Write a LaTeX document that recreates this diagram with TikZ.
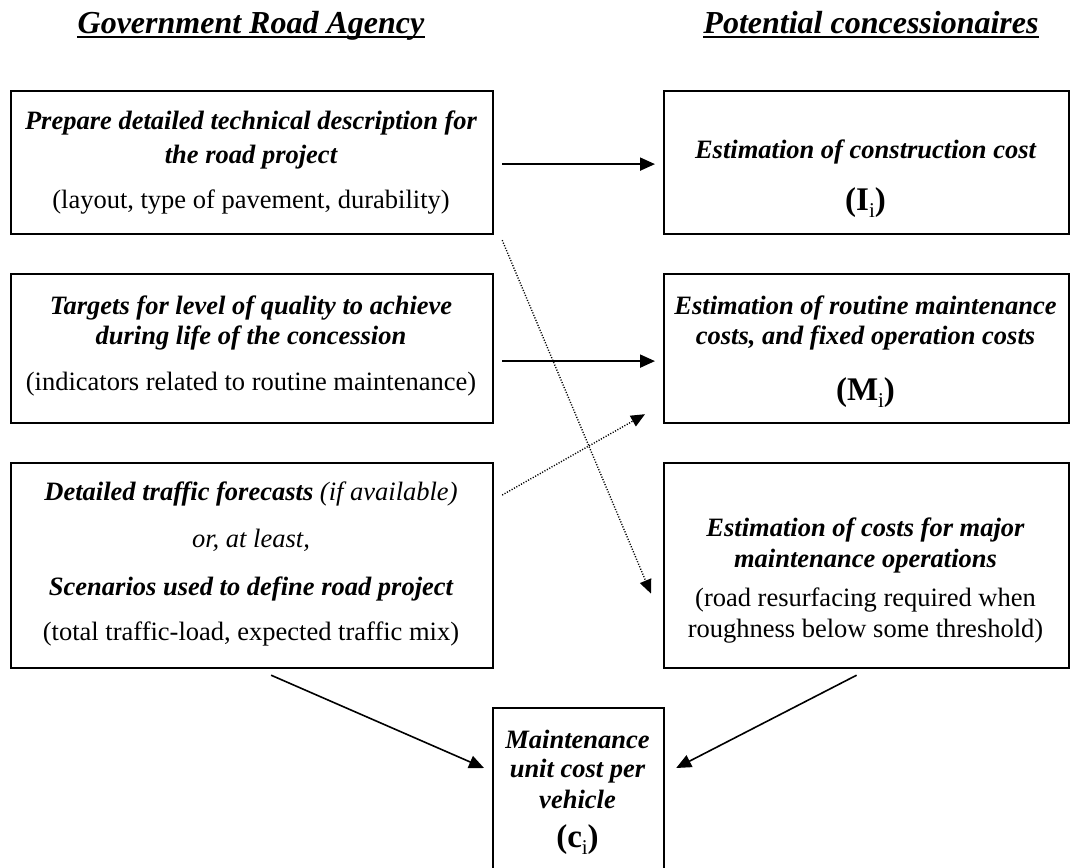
\documentclass[tikz,border=0pt]{standalone}
\usepackage{fontspec}
\setmainfont{Liberation Serif}
\usetikzlibrary{arrows.meta,calc}
\newcommand{\bodyfont}{\fontsize{26.5}{31}\selectfont}
\newcommand{\bfit}{\bfseries\itshape}
\newcommand{\lblsub}[1]{\raisebox{-0.22em}{\fontsize{21}{21}\selectfont\mdseries\upshape #1}}
\begin{document}
\begin{tikzpicture}[x=1pt,y=-1pt,
  box/.style={draw, line width=2.2pt, inner sep=0pt, anchor=north west},
  txt/.style={inner sep=0pt, align=center, anchor=north, font=\bodyfont},
  lbl/.style={inner sep=0pt, anchor=base, font=\fontsize{33}{38}\selectfont\bfseries},
  ttl/.style={inner sep=0pt, anchor=base, text depth=0.25em, font=\fontsize{32}{38}\selectfont\bfseries\itshape},
  arr/.style={line width=2pt, -{Triangle[length=15pt,width=13pt]}},
  dotarr/.style={line width=1.4pt, dash pattern=on 1.1pt off 1.6pt, -{Triangle[length=14pt,width=12pt]}}
]
\useasboundingbox (0,0) rectangle (1072,868);
\clip (0,0) rectangle (1072,868);

% titles
\node[ttl] (T1) at (251,33) {Government Road Agency};
\node[ttl] (T2) at (871,33) {Potential concessionaires};
\draw[line width=2.4pt] ([yshift=-1pt]T1.south west) -- ([yshift=-1pt]T1.south east);
\draw[line width=2.4pt] ([yshift=-1pt]T2.south west) -- ([yshift=-1pt]T2.south east);

% boxes
\node[box, minimum width=482pt, minimum height=143pt] (L1) at (10,90) {};
\node[box, minimum width=482pt, minimum height=149pt] (L2) at (10,273) {};
\node[box, minimum width=482pt, minimum height=205pt] (L3) at (10,462) {};
\node[box, minimum width=405pt, minimum height=143pt] (R1) at (663,90) {};
\node[box, minimum width=405pt, minimum height=149pt] (R2) at (663,273) {};
\node[box, minimum width=405pt, minimum height=205pt] (R3) at (663,462) {};
\node[box, minimum width=171pt, minimum height=165pt] (C) at (492,707) {};

% texts
\node[txt] (L1t) at (251,110.5) {{\bfit Prepare detailed technical description for}\\[3pt]
  {\bfit the road project}\\[14pt]
  (layout, type of pavement, durability)};
\node[txt] (L2t) at (251,295.5) {{\bfit Targets for level of quality to achieve}\\[-1pt]
  {\bfit during life of the concession}\\[15pt]
  (indicators related to routine maintenance)};
\node[txt] (L3t) at (251,481.5) {{\bfit Detailed traffic forecasts} {\itshape (if available)}\\[16pt]
  {\itshape or, at least,}\\[17pt]
  {\bfit Scenarios used to define road project}\\[14pt]
  (total traffic-load, expected traffic mix)};
\node[txt] (R1t) at (865.5,140) {{\bfit Estimation of construction cost}};
\node[lbl] (R1l) at (865.5,210) {(I\lblsub{i})};
\node[txt] (R2t) at (865.5,295.5) {{\bfit Estimation of routine maintenance}\\[-1pt]
  {\bfit costs, and fixed operation costs}};
\node[lbl] (R2l) at (865.5,400) {(M\lblsub{i})};
\node[txt] (R3t) at (865.5,517.5) {{\bfit Estimation of costs for major}\\[0pt]
  {\bfit maintenance operations}\\[8pt]
  (road resurfacing required when\\[0pt]
  roughness below some threshold)};
\node[txt] (Ct) at (577.5,729.5) {{\bfit Maintenance}\\[-2pt]
  {\bfit unit cost per}\\[0pt]
  {\bfit vehicle}};
\node[lbl] (Cl) at (577.5,847) {(c\lblsub{i})};

% connectors
\draw[arr, shorten <=8pt, shorten >=8pt] ([yshift=-1.5pt]L1.east) -- ([yshift=-1.5pt]R1.west);
\draw[arr, shorten <=8pt, shorten >=8pt] ([yshift=-12.5pt]L2.east) -- ([yshift=-12.5pt]R2.west);
\draw[dotarr] ($(L3.north east)+(8,33)$) -- ($(R2.south west)+(-18,-10)$);
\draw[dotarr] ($(L1.south east)+(8,5)$) -- ($(R3.west)+(-12,28)$);
\draw[arr, line width=1.6pt] ($(L3.south)+(19,6)$) -- ($(C.north west)+(-8,61)$);
\draw[arr, line width=1.6pt] ($(R3.south)+(-10,6)$) -- ($(C.north east)+(11,61)$);
\end{tikzpicture}
\end{document}
